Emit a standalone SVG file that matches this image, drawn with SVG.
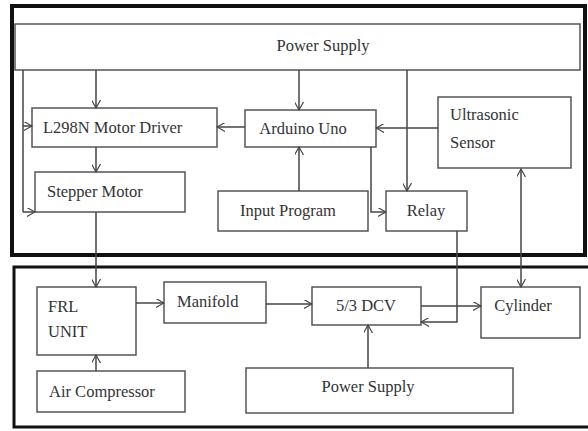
<svg xmlns="http://www.w3.org/2000/svg" width="588" height="431" viewBox="0 0 588 431">
<defs>
<style>
.frame{fill:none;stroke:#111;}
.box{fill:#fff;stroke:#555;stroke-width:1.5;}
.t{font-size:16.5px;fill:#333;}
.c{fill:none;stroke:#444;stroke-width:1.5;}
</style>
<marker id="ah" viewBox="0 0 10 10" refX="9" refY="5" markerWidth="9" markerHeight="9" markerUnits="userSpaceOnUse" orient="auto-start-reverse">
<path d="M0,0 L9,5 L0,10" fill="none" stroke="#444" stroke-width="1.3"/>
</marker>
</defs>
<rect width="588" height="431" fill="#fff"/>
<rect class="frame" x="12" y="6" width="573" height="249" stroke-width="4"/>
<rect class="frame" x="14" y="267" width="580" height="160" stroke-width="3"/>

<g font-family="'Liberation Serif', 'DejaVu Serif', serif">
<g id="ps-top"><rect class="box" x="15" y="24" width="565" height="46"/><text class="t" x="323" y="51" text-anchor="middle">Power Supply</text></g>
<g id="l298n"><rect class="box" x="32" y="108" width="185" height="39"/><text class="t" x="43" y="133">L298N Motor Driver</text></g>
<g id="arduino"><rect class="box" x="245" y="110" width="131" height="37"/><text class="t" x="303" y="134" text-anchor="middle">Arduino Uno</text></g>
<g id="ultrasonic"><rect class="box" x="438" y="97" width="133" height="71"/><text class="t" x="450" y="120">Ultrasonic</text><text class="t" x="450" y="148">Sensor</text></g>
<g id="stepper"><rect class="box" x="35" y="172" width="150" height="40"/><text class="t" x="47" y="197">Stepper Motor</text></g>
<g id="input"><rect class="box" x="218" y="191" width="150" height="40"/><text class="t" x="288" y="216" text-anchor="middle">Input Program</text></g>
<g id="relay"><rect class="box" x="386" y="191" width="81" height="40"/><text class="t" x="426" y="216" text-anchor="middle">Relay</text></g>
<g id="frl"><rect class="box" x="37" y="287" width="99" height="68"/><text class="t" x="48" y="312">FRL</text><text class="t" x="48" y="337">UNIT</text></g>
<g id="manifold"><rect class="box" x="164" y="282" width="102" height="41"/><text class="t" x="177" y="307">Manifold</text></g>
<g id="dcv"><rect class="box" x="312" y="287" width="109" height="38"/><text class="t" x="366" y="311" text-anchor="middle">5/3 DCV</text></g>
<g id="cylinder"><rect class="box" x="481" y="287" width="99" height="51"/><text class="t" x="523" y="311" text-anchor="middle">Cylinder</text></g>
<g id="ps-bottom"><rect class="box" x="246" y="368" width="267" height="45"/><text class="t" x="368" y="392" text-anchor="middle">Power Supply</text></g>
<g id="aircomp"><rect class="box" x="37" y="371" width="148" height="41"/><text class="t" x="49" y="397">Air Compressor</text></g>
</g>

<g id="connectors">
<path class="c" d="M96,70 V108" marker-end="url(#ah)"/>
<path class="c" d="M299,70 V110" marker-end="url(#ah)"/>
<path class="c" d="M407,70 V191" marker-end="url(#ah)"/>
<path class="c" d="M23,70 V212"/>
<path class="c" d="M23,126 H32" marker-end="url(#ah)"/>
<path class="c" d="M23,212 H35" marker-end="url(#ah)"/>
<path class="c" d="M245,127 H217" marker-end="url(#ah)"/>
<path class="c" d="M438,128 H376" marker-end="url(#ah)"/>
<path class="c" d="M299,191 V147" marker-end="url(#ah)"/>
<path class="c" d="M371,147 V212 H386" marker-end="url(#ah)"/>
<path class="c" d="M96,147 V172" marker-end="url(#ah)"/>
<path class="c" d="M96,212 V287" marker-end="url(#ah)"/>
<path class="c" d="M136,303 H164" marker-end="url(#ah)"/>
<path class="c" d="M266,304 H312" marker-end="url(#ah)"/>
<path class="c" d="M421,306 H481" marker-end="url(#ah)"/>
<path class="c" d="M457,231 V322 H421" marker-end="url(#ah)"/>
<path class="c" d="M521,169 V287" marker-start="url(#ah)" marker-end="url(#ah)"/>
<path class="c" d="M368,368 V325" marker-end="url(#ah)"/>
<path class="c" d="M96,371 V355" marker-end="url(#ah)"/>
</g>
</svg>
